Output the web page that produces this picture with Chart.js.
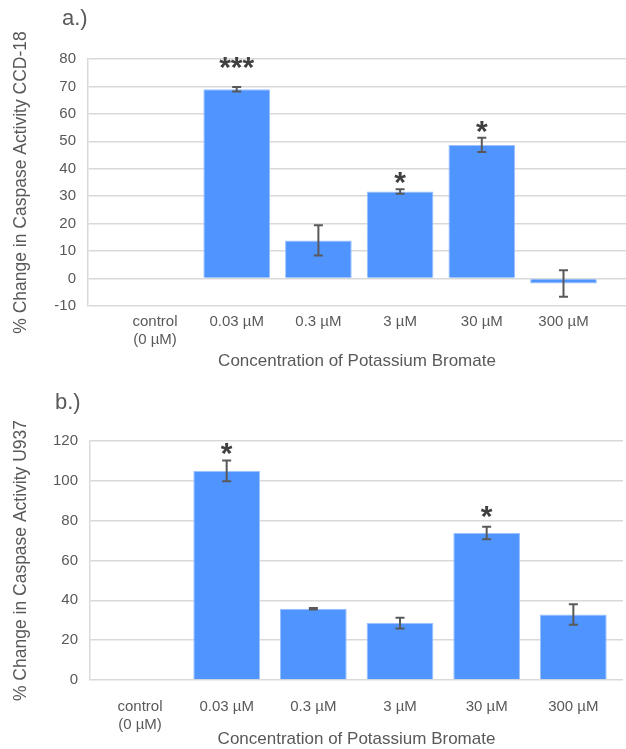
<!DOCTYPE html>
<html>
<head>
<meta charset="utf-8">
<script src="https://cdn.jsdelivr.net/npm/chart.js@4.4.1/dist/chart.umd.min.js"></script>
<style>
	body { margin: 0; background: #ffffff; }
	canvas { display: block; }
</style>
</head>
<body>
<canvas id="chartA" width="626" height="375"></canvas>
<canvas id="chartB" width="626" height="374"></canvas>
<script>
const catLabels = [['control', '(0 µM)'], '0.03 µM', '0.3 µM', '3 µM', '30 µM', '300 µM'];

// panel a.) CCD-18
const valuesA = [null, 69.0, 13.9, 31.7, 48.7, -1.8];
const errorsA = [null, 0.8, 5.5, 0.8, 2.6, 4.8];
const starsA = ['', '***', '', '*', '*', ''];
const starPosA = [null, 78.5, null, 36.6, 55.2, null];
const yTicksA = [-10, 0, 10, 20, 30, 40, 50, 60, 70, 80];

// panel b.) U937
const valuesB = [null, 105.0, 35.8, 28.6, 73.8, 32.9];
const errorsB = [null, 5.2, 0.4, 2.7, 3.1, 5.1];
const starsB = ['', '*', '', '', '*', ''];
const starPosB = [null, 116, null, null, 84.2, null];
const yTicksB = [0, 20, 40, 60, 80, 100, 120];

const textColor = '#595959';
const barColor = '#4f94ff';
const gridColor = '#d9d9d9';
const font = 'Liberation Sans, Arial, sans-serif';

//error bars, stars and panel letter
const extrasPlugin = {
	id: 'extras',
	afterDatasetsDraw(chart, args, opts) {
		const ctx = chart.ctx;
		const xs = chart.scales.x;
		const ys = chart.scales.y;
		ctx.save();
		ctx.strokeStyle = textColor;
		ctx.lineWidth = 2;
		opts.values.forEach((v, i) => {
			if (v === null) return;
			const e = opts.errors[i];
			const x = xs.getPixelForValue(i);
			const y1 = ys.getPixelForValue(v + e);
			const y2 = ys.getPixelForValue(v - e);
			ctx.beginPath();
			ctx.moveTo(x, y1);
			ctx.lineTo(x, y2);
			ctx.moveTo(x - 4.5, y1);
			ctx.lineTo(x + 4.5, y1);
			ctx.moveTo(x - 4.5, y2);
			ctx.lineTo(x + 4.5, y2);
			ctx.stroke();
		});
		ctx.fillStyle = '#404040';
		ctx.font = 'bold 30px ' + font;
		ctx.textAlign = 'center';
		ctx.textBaseline = 'alphabetic';
		opts.stars.forEach((s, i) => {
			if (!s) return;
			const m = ctx.measureText(s);
			const cy = ys.getPixelForValue(opts.starPos[i]);
			const base = cy + (m.actualBoundingBoxAscent - m.actualBoundingBoxDescent) / 2;
			ctx.fillText(s, xs.getPixelForValue(i), base);
		});
		ctx.fillStyle = textColor;
		ctx.font = '22px ' + font;
		ctx.textAlign = 'left';
		ctx.fillText(opts.letter, opts.letterX, opts.letterY);
		ctx.restore();
	},
};

const makeChart = (id, p) => {
	const ctx = document.getElementById(id).getContext('2d');
	const data = p.values.map((v, i) => ({ x: i, y: v }));
	return new Chart(ctx, {
		type: 'bar',
		data: {
			datasets: [
				{
					data: data,
					backgroundColor: barColor,
					borderColor: '#9cc2ff',
					borderWidth: 1,
					categoryPercentage: 1,
					barPercentage: p.barPct,
				},
			],
		},
		options: {
			responsive: false,
			devicePixelRatio: 1,
			animation: false,
			layout: { padding: { top: p.top, right: p.right, left: 0, bottom: 0 } },
			plugins: {
				legend: { display: false },
				tooltip: { enabled: false },
				extras: {
					values: p.values,
					errors: p.errors,
					stars: p.stars,
					starPos: p.starPos,
					letter: p.letter,
					letterX: p.letterX,
					letterY: p.letterY,
				},
			},
			scales: {
				x: {
					type: 'linear',
					offset: false,
					min: p.xMin,
					max: p.xMax,
					grid: { display: false },
					border: { display: false },
					afterBuildTicks: (scale) => {
						scale.ticks = catLabels.map((l, i) => ({ value: i }));
					},
					afterFit: (scale) => {
						scale.height = p.xHeight;
					},
					ticks: {
						autoSkip: false,
						maxRotation: 0,
						padding: p.xPad,
						color: textColor,
						font: { family: font, size: 15 },
						callback: (v) => catLabels[Math.round(v)],
					},
					title: {
						display: true,
						text: 'Concentration of Potassium Bromate',
						color: textColor,
						font: { family: font, size: 17 },
						padding: { top: 0, bottom: p.titlePad },
					},
				},
				y: {
					min: p.yTicks[0],
					max: p.yTicks[p.yTicks.length - 1],
					afterBuildTicks: (scale) => {
						scale.ticks = p.yTicks.map((t) => ({ value: t }));
					},
					afterFit: (scale) => {
						scale.width = p.yWidth;
					},
					grid: { color: gridColor, lineWidth: 1.5, drawTicks: false },
					border: { color: gridColor, width: 1.5 },
					ticks: {
						padding: 12,
						color: textColor,
						font: { family: font, size: 15 },
					},
					title: {
						display: true,
						text: p.yTitle,
						color: textColor,
						font: { family: font, size: 17.5 },
						padding: { top: 11, bottom: 0 },
					},
				},
			},
		},
		plugins: [extrasPlugin],
	});
};

makeChart('chartA', {
	values: valuesA,
	errors: errorsA,
	stars: starsA,
	starPos: starPosA,
	yTicks: yTicksA,
	yTitle: '% Change in Caspase Activity CCD-18',
	letter: 'a.)',
	letterX: 62,
	letterY: 25,
	xMin: -0.82,
	xMax: 5.765,
	barPct: 0.816,
	top: 59,
	right: 0,
	yWidth: 88,
	xHeight: 69,
	xPad: -1,
	titlePad: 3,
});

makeChart('chartB', {
	values: valuesB,
	errors: errorsB,
	stars: starsB,
	starPos: starPosB,
	yTicks: yTicksB,
	yTitle: '% Change in Caspase Activity U937',
	letter: 'b.)',
	letterX: 55,
	letterY: 34,
	xMin: -0.577,
	xMax: 5.573,
	barPct: 0.77,
	top: 66,
	right: 3,
	yWidth: 90,
	xHeight: 69,
	xPad: 10,
	titlePad: -1,
});
</script>
</body>
</html>
